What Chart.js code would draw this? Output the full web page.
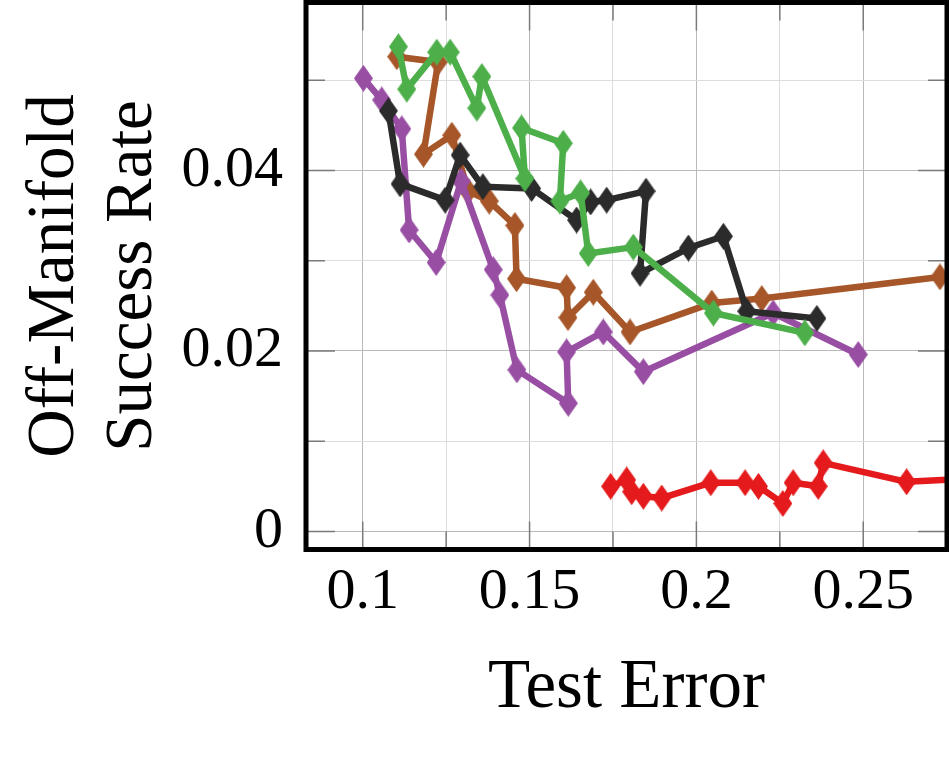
<!DOCTYPE html>
<html>
<head>
<meta charset="utf-8">
<script src="https://cdn.jsdelivr.net/npm/chart.js@4"></script>
<style>
  body { margin: 0; background: #fff; }
</style>
</head>
<body>
<canvas id="chart" width="949" height="757"></canvas>
<script>
// values
const xTickValues = [0.1, 0.125, 0.15, 0.175, 0.2, 0.225, 0.25];
const xTickLabels = ['0.1', '', '0.15', '', '0.2', '', '0.25'];
const yTickValues = [0, 0.01, 0.02, 0.03, 0.04, 0.05];
const yTickLabels = ['0', '', '0.02', '', '0.04', ''];

const greenX = [0.1107, 0.1132, 0.1222, 0.1262, 0.1342, 0.1357, 0.1486, 0.1476, 0.1601, 0.1591, 0.1653, 0.1676, 0.1811, 0.2051, 0.2325];
const greenY = [0.0537, 0.0490, 0.0531, 0.0531, 0.0469, 0.0504, 0.0391, 0.0447, 0.0430, 0.0366, 0.0375, 0.0308, 0.0315, 0.0242, 0.0220];

const blackX = [0.1077, 0.1112, 0.1247, 0.1292, 0.1360, 0.1506, 0.1641, 0.1683, 0.1731, 0.1849, 0.1831, 0.1976, 0.2081, 0.2151, 0.2361];
const blackY = [0.0466, 0.0385, 0.0367, 0.0417, 0.0382, 0.0380, 0.0345, 0.0365, 0.0367, 0.0377, 0.0286, 0.0314, 0.0327, 0.0244, 0.0236];

const purpleX = [0.1002, 0.1057, 0.1117, 0.1139, 0.1220, 0.1295, 0.1391, 0.1411, 0.1462, 0.1616, 0.1611, 0.1721, 0.1841, 0.2230, 0.2485];
const purpleY = [0.0502, 0.0478, 0.0446, 0.0334, 0.0298, 0.0388, 0.0290, 0.0262, 0.0179, 0.0142, 0.0199, 0.0221, 0.0177, 0.0242, 0.0196];

const brownX = [0.1102, 0.1226, 0.1182, 0.1267, 0.1316, 0.1379, 0.1456, 0.1461, 0.1611, 0.1615, 0.1691, 0.1801, 0.2046, 0.2196, 0.2730];
const brownY = [0.0526, 0.0520, 0.0418, 0.0439, 0.0377, 0.0366, 0.0339, 0.0280, 0.0270, 0.0237, 0.0265, 0.0221, 0.0253, 0.0258, 0.0282];

const redX = [0.1743, 0.1791, 0.1806, 0.1841, 0.1896, 0.2043, 0.2146, 0.2186, 0.2259, 0.2290, 0.2365, 0.2380, 0.2630, 0.2900];
const redY = [0.0050, 0.0057, 0.0044, 0.0039, 0.0037, 0.0054, 0.0054, 0.0050, 0.0031, 0.0054, 0.0050, 0.0076, 0.0055, 0.0060];

Chart.defaults.font.family = '"Liberation Serif", "Times New Roman", serif';
Chart.defaults.color = '#000';

function diamond(color) {
    const c = document.createElement('canvas');
    c.width = 19;
    c.height = 27;
    const g = c.getContext('2d');
    g.fillStyle = color;
    g.beginPath();
    g.moveTo(9.5, 0);
    g.lineTo(19, 13.5);
    g.lineTo(9.5, 27);
    g.lineTo(0, 13.5);
    g.closePath();
    g.fill();
    return c;
}

function series(xs, ys, color, order) {
    return {
        data: xs.map((x, i) => ({ x: x, y: ys[i] })),
        showLine: true,
        borderColor: color,
        backgroundColor: color,
        borderWidth: 6.5,
        borderJoinStyle: 'round',
        pointStyle: diamond(color),
        order: order
    };
}

// no extra room for half labels at the ends of an axis
function noPad(s) {
    s.paddingLeft = 0;
    s.paddingRight = 0;
    s.paddingTop = 0;
    s.paddingBottom = 0;
}

// inner ticks + thick frame, like the pgfplots box
const frame = {
    id: 'frame',
    afterDraw(chart) {
        const { ctx, chartArea: a, scales } = chart;
        ctx.save();
        ctx.strokeStyle = '#7a7a7a';
        ctx.lineWidth = 1.5;
        ctx.beginPath();
        xTickValues.forEach((v, i) => {
            const len = xTickLabels[i] ? 28 : 18;
            const px = scales.x.getPixelForValue(v);
            ctx.moveTo(px, a.top); ctx.lineTo(px, a.top + len);
            ctx.moveTo(px, a.bottom); ctx.lineTo(px, a.bottom - len);
        });
        yTickValues.forEach((v, i) => {
            const len = yTickLabels[i] ? 29 : 19;
            const py = scales.y.getPixelForValue(v);
            ctx.moveTo(a.left, py); ctx.lineTo(a.left + len, py);
            ctx.moveTo(a.right, py); ctx.lineTo(a.right - len, py);
        });
        ctx.stroke();
        ctx.strokeStyle = '#000';
        ctx.lineWidth = 5;
        ctx.strokeRect(a.left, a.top, a.right - a.left, a.bottom - a.top);
        ctx.restore();
    }
};

new Chart(document.getElementById('chart'), {
    type: 'scatter',
    data: {
        datasets: [
            series(greenX, greenY, '#4daf4a', 1),
            series(blackX, blackY, '#2b2b2b', 2),
            series(purpleX, purpleY, '#984ea3', 3),
            series(brownX, brownY, '#a65628', 4),
            series(redX, redY, '#e41a1c', 5)
        ]
    },
    options: {
        responsive: false,
        animation: false,
        events: [],
        layout: { autoPadding: false, padding: { left: 0, right: 2, top: 2.5, bottom: 0 } },
        plugins: { legend: { display: false }, tooltip: { enabled: false } },
        scales: {
            x: {
                type: 'linear',
                min: 0.083,
                max: 0.2751,
                afterBuildTicks: (s) => { s.ticks = xTickValues.map(v => ({ value: v })); },
                afterFit: (s) => { s.height = 207.5; noPad(s); },
                ticks: {
                    autoSkip: false,
                    maxRotation: 0,
                    padding: 14,
                    font: { size: 58, lineHeight: 1 },
                    callback: (v, i) => xTickLabels[i]
                },
                grid: {
                    drawTicks: false,
                    lineWidth: 1,
                    color: (c) => xTickLabels[c.index] ? '#b9b9b9' : '#dddddd'
                },
                border: { display: false },
                title: {
                    display: true,
                    text: 'Test Error',
                    font: { size: 69, lineHeight: 1.2 },
                    padding: { top: 0, bottom: 26.5 }
                }
            },
            y: {
                type: 'linear',
                min: -0.002,
                max: 0.0586,
                afterBuildTicks: (s) => { s.ticks = yTickValues.map(v => ({ value: v })); },
                afterFit: (s) => { s.width = 306; noPad(s); },
                ticks: {
                    autoSkip: false,
                    padding: 23,
                    font: { size: 58, lineHeight: 1 },
                    callback: (v, i) => yTickLabels[i]
                },
                grid: {
                    drawTicks: false,
                    lineWidth: 1,
                    color: (c) => yTickLabels[c.index] ? '#b9b9b9' : '#dddddd'
                },
                border: { display: false },
                title: {
                    display: true,
                    text: ['Off-Manifold', 'Success Rate'],
                    font: { size: 67, lineHeight: 1.165 },
                    padding: { top: 16, bottom: 0 }
                }
            }
        }
    },
    plugins: [frame]
});
</script>
</body>
</html>
